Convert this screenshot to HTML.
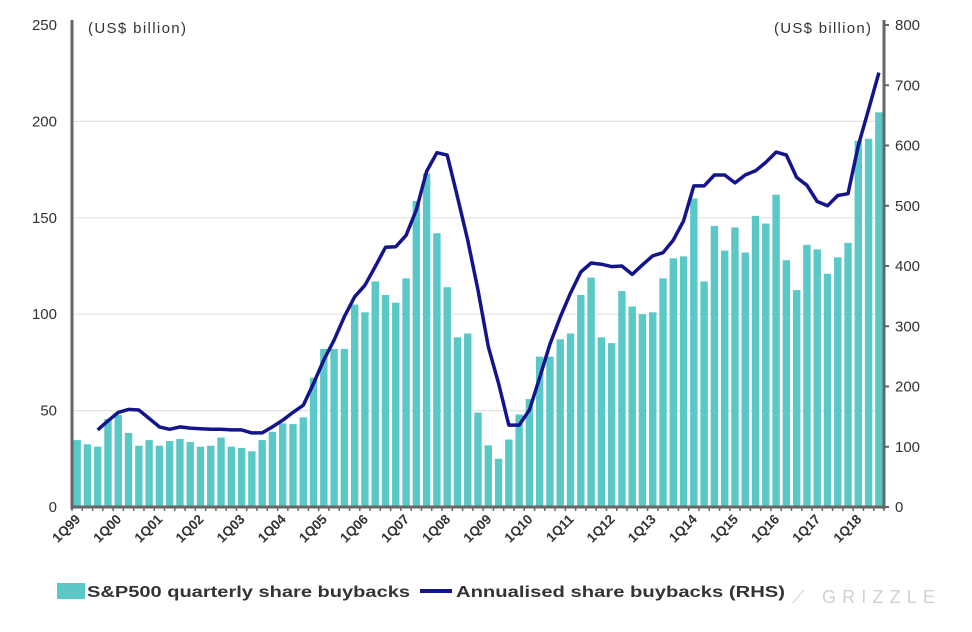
<!DOCTYPE html>
<html><head><meta charset="utf-8">
<style>
body{margin:0;background:#fff;width:972px;height:627px;overflow:hidden;font-family:"Liberation Sans",sans-serif;}
svg text{font-family:"Liberation Sans",sans-serif;fill:#333;}
</style></head><body>
<svg id="chart" width="972" height="627" viewBox="0 0 972 627" xmlns="http://www.w3.org/2000/svg">
<g id="grid"></g><g id="bars"></g><g id="line"></g><g id="axes"></g>
<text x="88" y="33" font-size="15" textLength="98">(US$ billion)</text>
<text x="774" y="33" font-size="15" textLength="97">(US$ billion)</text>
<g>
<rect x="57" y="583" width="28" height="16" fill="#5BC8C8"/>
<text x="87" y="597" font-size="16" font-weight="bold" fill="#444" textLength="323" lengthAdjust="spacingAndGlyphs">S&amp;P500 quarterly share buybacks</text>
<line x1="420" y1="591" x2="452" y2="591" stroke="#14148c" stroke-width="4"/>
<text x="456" y="597" font-size="16" font-weight="bold" fill="#444" textLength="329" lengthAdjust="spacingAndGlyphs">Annualised share buybacks (RHS)</text>
</g>
<text x="792" y="603" font-size="18" textLength="143" style="fill:#d0d0d0">⟋ GRIZZLE</text>
</svg>
<script>
const quarters=["1Q99","1Q00","1Q01","1Q02","1Q03","1Q04","1Q05","1Q06","1Q07","1Q08","1Q09","1Q10","1Q11","1Q12","1Q13","1Q14","1Q15","1Q16","1Q17","1Q18"];
const leftTicks=[0,50,100,150,200,250];
const rightTicks=[0,100,200,300,400,500,600,700,800];
const quarterly=[34.7,32.5,31.3,45.6,47.7,38.4,31.8,34.7,31.8,34.2,35.3,33.7,31.3,31.8,36,31.3,30.6,28.9,34.7,39,43.4,43,46.5,67,82,82,82,105,101,117,110,106,118.6,158.7,173,142,114,88,90,49,32,25,35,48,56,78,78,87,90,110,119,88,85,112,104,100,101,118.6,129,130,160,117,145.8,133,145,132,151,147,162,128,112.5,136,133.6,121,129.5,137,190,191,204.7];
const annualised=[null,null,128,143,157,162,161,147,133,129,133,131,130,129,129,128,128,123,123,133,144,157,169,205,244,277,316,349,368,399,431,432,451,493,557,588,584,515,443,360,266,205,136,136,161,215,270,315,355,390,405,403,399,400,386,402,417,422,443,475,533,533,551,551,538,551,558,572,589,584,547,534,507,500,517,520,600,660,721];
const NS="http://www.w3.org/2000/svg";
const L=72,R=884,B=507,T=25,pitch=(R-L)/79;
const xC=i=>L+pitch*(i+0.5);
const yL=v=>B-(v/250)*(B-T);
const yR=v=>B-(v/800)*(B-T);
function mk(tag,attrs,parent){const e=document.createElementNS(NS,tag);for(const k in attrs)e.setAttribute(k,attrs[k]);parent.appendChild(e);return e;}
const grid=document.getElementById('grid'),bars=document.getElementById('bars'),line=document.getElementById('line'),axes=document.getElementById('axes');
leftTicks.forEach(v=>{
  if(v>0&&v<250){const g=mk('line',{x1:L,x2:R,y1:yL(v),y2:yL(v),stroke:'#e2e2e2','stroke-width':1.2},grid);
  
  }
  const t=mk('text',{x:57,y:yL(v)+5,'font-size':15,'text-anchor':'end'},axes);t.textContent=v;
  
  
});
rightTicks.forEach(v=>{
  const t=mk('text',{x:895,y:yR(v)+5,'font-size':15},axes);t.textContent=v;
  
  
  mk('line',{x1:R,x2:R+5,y1:yR(v),y2:yR(v),stroke:'#666','stroke-width':2},axes);
});
quarterly.forEach((v,i)=>{
  const r=mk('rect',{x:xC(i)-3.7,y:yL(v),width:7.4,height:B-yL(v),fill:'#5BC8C8'},bars);
  
  
});
let d='';annualised.forEach((v,i)=>{if(v==null)return;d+=(d?'L':'M')+xC(i).toFixed(1)+','+yR(v).toFixed(1);});
const p=mk('path',{d:d,fill:'none',stroke:'#14148c','stroke-width':3.5,'stroke-linejoin':'round'},line);


mk('line',{x1:L,x2:L,y1:T-5,y2:B+2,stroke:'#666','stroke-width':3},axes);
mk('line',{x1:R,x2:R,y1:T-5,y2:B+2,stroke:'#666','stroke-width':3},axes);
mk('line',{x1:L,x2:R,y1:B,y2:B,stroke:'#666','stroke-width':3},axes);
for(let i=0;i<=79;i++){mk('line',{x1:L+pitch*i,x2:L+pitch*i,y1:B,y2:B+4,stroke:'#666','stroke-width':1.5},axes);}
quarters.forEach((q,k)=>{
  const x=xC(k*4)+4,y=B+13;
  const t=mk('text',{x:x,y:y,'font-size':13.5,'font-weight':'bold','text-anchor':'end',transform:`rotate(-45 ${x} ${y})`},axes);
  t.textContent=q;
  
  
});
</script>
</body></html>
